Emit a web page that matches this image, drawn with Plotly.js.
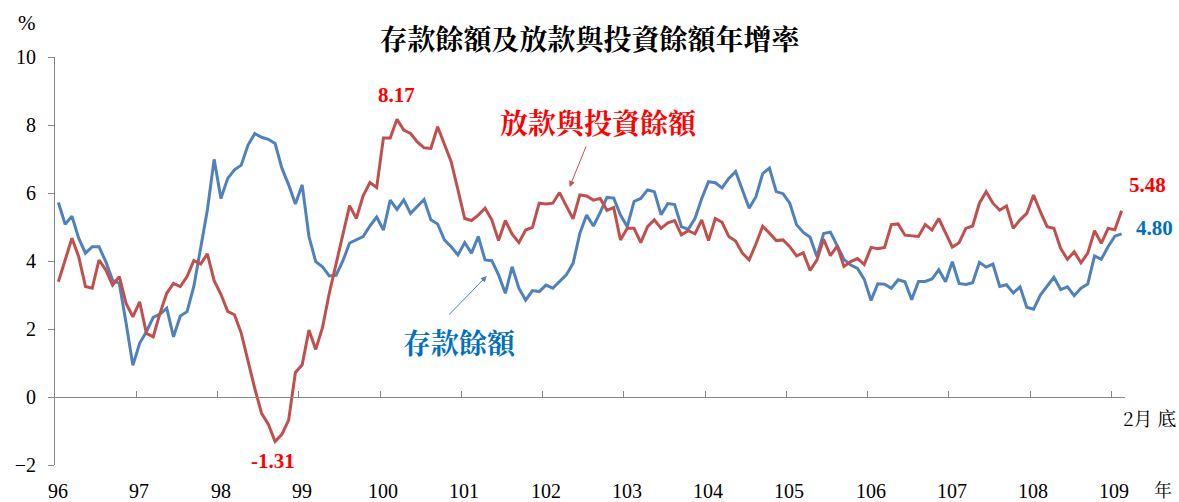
<!DOCTYPE html>
<html>
<head>
<meta charset="utf-8">
<script src="https://cdn.plot.ly/plotly-3.0.1.min.js"></script>
<style>html,body{margin:0;padding:0;background:#fff;}#chart{width:1179px;height:502px;}</style>
</head>
<body>
<div id="chart"></div>
<script>
// Monthly year-on-year growth (%), Jan 96 (ROC) to Feb 109
const yearLabels = ['96','97','98','99','100','101','102','103','104','105','106','107','108','109'];

const deposits = [
5.72,5.08,5.32,4.67,4.23,4.42,4.42,3.98,3.44,3.34,2.17,0.93,
1.58,1.92,2.34,2.44,2.61,1.77,2.38,2.51,3.25,4.32,5.50,6.99,
5.84,6.43,6.68,6.82,7.41,7.75,7.64,7.58,7.46,6.73,6.24,5.68,
6.24,4.72,3.98,3.83,3.56,3.58,4.00,4.53,4.62,4.72,5.03,5.29,
4.91,5.79,5.52,5.80,5.40,5.62,5.81,5.21,5.09,4.62,4.42,4.18,
4.54,4.23,4.72,4.03,4.01,3.59,3.05,3.83,3.20,2.85,3.13,3.10,
3.29,3.20,3.39,3.59,3.93,4.81,5.35,5.03,5.42,5.87,5.85,5.35,
5.01,5.75,5.84,6.09,6.04,5.36,5.69,5.66,5.01,4.93,5.25,5.84,
6.33,6.30,6.15,6.43,6.63,6.09,5.55,5.89,6.57,6.73,6.04,5.98,
5.70,5.07,4.84,4.70,4.13,4.81,4.85,4.45,4.05,3.88,3.78,3.46,
2.84,3.33,3.32,3.20,3.45,3.39,2.86,3.40,3.40,3.47,3.74,3.39,
3.98,3.34,3.31,3.36,3.96,3.82,3.91,3.25,3.30,3.06,3.24,2.64,
2.58,3.00,3.25,3.52,3.16,3.24,2.98,3.20,3.32,4.15,4.05,4.42,
4.73,4.80];

const loans = [
3.39,4.03,4.67,4.13,3.25,3.20,4.03,3.74,3.29,3.54,2.75,2.36,
2.80,1.87,1.77,2.46,3.05,3.34,3.25,3.54,4.01,3.91,4.21,3.42,
3.02,2.52,2.42,1.88,1.05,0.25,-0.48,-0.80,-1.31,-1.10,-0.68,0.72,
0.95,1.97,1.40,2.04,3.05,3.90,4.75,5.63,5.25,5.92,6.31,6.16,
7.62,7.62,8.17,7.85,7.75,7.50,7.33,7.31,7.95,7.46,6.92,6.09,
5.25,5.19,5.35,5.55,5.21,4.60,5.19,4.79,4.54,4.91,4.99,5.70,
5.68,5.70,6.01,5.62,5.24,5.94,5.91,5.79,5.84,5.49,5.57,4.62,
4.96,4.96,4.54,5.01,5.21,4.96,5.12,5.19,4.77,4.89,4.80,5.21,
4.60,5.25,5.14,4.72,4.59,4.23,4.03,4.50,5.02,4.82,4.60,4.62,
4.42,4.15,4.24,3.72,4.03,4.64,4.16,4.44,3.84,3.98,4.07,3.90,
4.40,4.36,4.40,5.07,5.09,4.76,4.74,4.72,5.07,4.91,5.25,4.82,
4.41,4.54,4.96,5.03,5.70,6.04,5.70,5.50,5.62,4.96,5.21,5.40,
5.94,5.45,5.01,4.96,4.37,4.05,4.27,3.95,4.23,4.89,4.52,4.96,
4.92,5.48];

const nMonths = deposits.length;
const xs = deposits.map((_, i) => i + 0.5);
const tickvals = yearLabels.map((_, k) => k * 12);

const serif = "'Liberation Serif', 'Times New Roman', serif";
const cjk = "'Noto Serif CJK TC', 'Noto Sans CJK TC', serif";
const blueLine = '#4F81BD', redLine = '#C0504D';
const blueText = '#0070C0', redText = '#FF0000';
const axisGray = '#868686';

const iMax = loans.indexOf(Math.max(...loans));
const iMin = loans.indexOf(Math.min(...loans));
const last = nMonths - 1;

const traces = [
  {x: xs, y: deposits, type: 'scatter', mode: 'lines', line: {color: blueLine, width: 3}, name: '存款餘額', hoverinfo: 'skip'},
  {x: xs, y: loans, type: 'scatter', mode: 'lines', line: {color: redLine, width: 3}, name: '放款與投資餘額', hoverinfo: 'skip'}
];

const annotations = [];
yearLabels.forEach((t, k) => annotations.push({
  x: tickvals[k], xref: 'x', y: 0, yref: 'paper', yanchor: 'middle', xanchor: 'center',
  yshift: -26, xshift: 3, showarrow: false, text: t, font: {family: serif, size: 20, color: '#000'}
}));
annotations.push(
  {x: 0, xref: 'paper', xanchor: 'center', xshift: -28, y: 1, yref: 'paper', yshift: 34, yanchor: 'middle',
   showarrow: false, text: '%', font: {family: serif, size: 21, color: '#000'}},
  {x: 1, xref: 'paper', xanchor: 'center', xshift: 38, y: 0, yref: 'paper', yanchor: 'middle', yshift: -24, showarrow: false,
   text: '年', font: {family: cjk, size: 18, color: '#000'}},
  {x: 1, xref: 'paper', xanchor: 'center', xshift: 24, y: 0, yref: 'paper', yshift: 48, yanchor: 'middle', showarrow: false,
   text: '2月 底', font: {family: cjk, size: 19, color: '#000'}},
  {x: xs[iMax], y: loans[iMax], xref: 'x', yref: 'y', yshift: 24, showarrow: false,
   text: '<b>' + loans[iMax].toFixed(2) + '</b>', font: {family: serif, size: 21, color: redText}},
  {x: xs[iMin], y: loans[iMin], xref: 'x', yref: 'y', yshift: -19, xshift: -2, showarrow: false,
   text: '<b>' + loans[iMin].toFixed(2) + '</b>', font: {family: serif, size: 21, color: redText}},
  {x: xs[last], y: loans[last], xref: 'x', yref: 'y', xshift: 26, yshift: 26, showarrow: false,
   text: '<b>' + loans[last].toFixed(2) + '</b>', font: {family: serif, size: 21, color: redText}},
  {x: xs[last], y: deposits[last], xref: 'x', yref: 'y', xshift: 33, yshift: 6, showarrow: false,
   text: '<b>' + deposits[last].toFixed(2) + '</b>', font: {family: serif, size: 21, color: blueText}},
  {x: 80.3, y: 8.1, xref: 'x', yref: 'y', showarrow: false,
   text: '<b>放款與投資餘額</b>', font: {family: cjk, size: 28, color: redText}},
  {x: 59.8, y: 1.61, xref: 'x', yref: 'y', showarrow: false,
   text: '<b>存款餘額</b>', font: {family: cjk, size: 28, color: blueText}},
  {x: 76.0, y: 6.18, xref: 'x', yref: 'y', ax: 17, ay: -42, showarrow: true,
   arrowhead: 2, arrowsize: 1.2, arrowwidth: 1, arrowcolor: redLine, text: ''},
  {x: 63.76, y: 3.56, xref: 'x', yref: 'y', ax: -39, ay: 40, showarrow: true,
   arrowhead: 2, arrowsize: 1.2, arrowwidth: 1, arrowcolor: blueLine, text: ''}
);

const layout = {
  width: 1179, height: 502,
  margin: {l: 55, r: 54, t: 57, b: 37, pad: 0},
  paper_bgcolor: '#fff', plot_bgcolor: '#fff',
  showlegend: false,
  title: {text: '<b>存款餘額及放款與投資餘額年增率</b>', x: 0.5, xanchor: 'center', y: 1 - 40/502, yanchor: 'middle',
          font: {family: cjk, size: 28, color: '#000'}},
  xaxis: {
    range: [0, nMonths], anchor: 'free', position: 2/12,
    showline: true, linecolor: axisGray, linewidth: 1,
    ticks: 'inside', ticklen: 6, tickcolor: axisGray, tickwidth: 1,
    tickmode: 'array', tickvals: tickvals, showticklabels: false,
    showgrid: false, zeroline: false, fixedrange: true
  },
  yaxis: {
    range: [-2, 10], dtick: 2, tick0: 0,
    showline: true, linecolor: axisGray, linewidth: 1,
    ticks: 'outside', ticklen: 6, tickcolor: axisGray, tickwidth: 1,
    ticklabelstandoff: 8,
    tickfont: {family: serif, size: 20, color: '#000'},
    showgrid: false, zeroline: false, fixedrange: true
  },
  annotations: annotations
};

Plotly.newPlot('chart', traces, layout, {displayModeBar: false, staticPlot: true});
</script>
</body>
</html>
